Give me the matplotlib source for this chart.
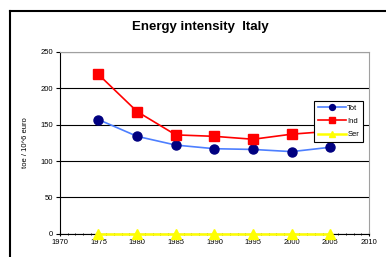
import matplotlib.pyplot as plt
from matplotlib.ticker import MultipleLocator
from matplotlib.lines import Line2D

plt.rcParams['font.family'] = ['Liberation Sans', 'DejaVu Sans']

# Datos
years = [1975, 1980, 1985, 1990, 1995, 2000, 2005]
tot = [157, 134, 122, 117, 116, 113, 119]
ind = [219, 168, 136, 134, 130, 137, 141]
ser = [0, 0, 0, 0, 0, 0, 0]

fig = plt.figure(figsize=(3.86, 2.57), dpi=100)
ax = fig.add_axes([0.155, 0.09, 0.801, 0.708])

# Marco exterior (cortado a la derecha y abajo)
fig.add_artist(Line2D([0.027, 0.027], [0, 0.957], color='black', lw=1.5))
fig.add_artist(Line2D([0.027, 1], [0.957, 0.957], color='black', lw=1.5))

ax.plot(years, tot, color='#4D7FFF', lw=1.2, marker='o', ms=6.5,
        mfc='#000080', mec='#000080', label='Tot', zorder=3)
ax.plot(years, ind, color='#FF0000', lw=1.2, marker='s', ms=6.5,
        mfc='#FF0000', mec='#FF0000', label='Ind', zorder=3)
ax.plot(years, ser, color='#FFFF00', lw=1.8, marker='^', ms=7,
        mfc='#FFFF00', mec='#FFFF00', label='Ser', zorder=4, clip_on=False)

ax.set_xlim(1970, 2010)
ax.set_ylim(0, 250)
ax.xaxis.set_major_locator(MultipleLocator(5))
ax.xaxis.set_minor_locator(MultipleLocator(1))
ax.yaxis.set_major_locator(MultipleLocator(50))
ax.grid(axis='y', color='black', lw=0.8)
ax.set_axisbelow(True)

for s in ['top', 'right']:
    ax.spines[s].set_color('#A0A0A0')
for s in ['left', 'bottom']:
    ax.spines[s].set_color('black')

ax.tick_params(axis='both', labelsize=5.5, length=3, width=0.8, pad=2)
ax.tick_params(axis='x', which='both', direction='inout')
ax.tick_params(axis='x', which='minor', length=2)

ax.set_ylabel('toe / 10^6 euro', fontsize=5.5, labelpad=8)
fig.text(0.52, 0.895, 'Energy intensity  Italy', ha='center', va='center',
         fontsize=9.5, fontweight='bold')

leg = ax.legend(loc='upper right', bbox_to_anchor=(0.98, 0.731), fontsize=5.5,
                frameon=True, fancybox=False, edgecolor='black', framealpha=1,
                markerscale=0.65, handlelength=3.6, borderpad=0.5,
                labelspacing=0.75, handletextpad=0.2, borderaxespad=0)
leg.get_frame().set_linewidth(0.8)
leg.set_zorder(10)

fig.savefig('out.png', dpi=100)
